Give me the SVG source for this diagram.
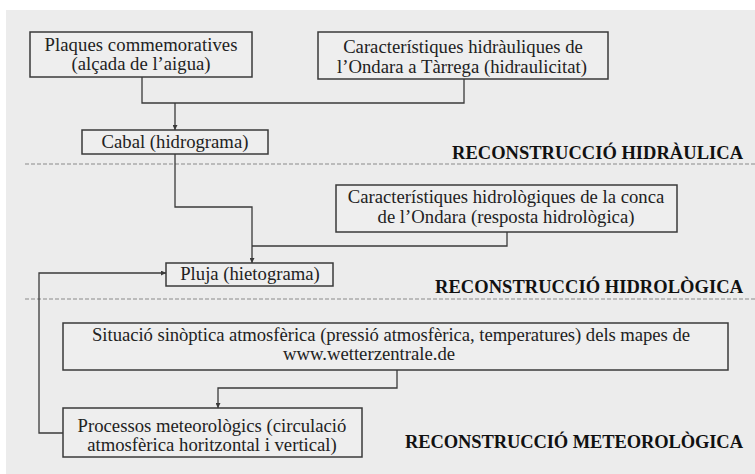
<svg xmlns="http://www.w3.org/2000/svg" width="755" height="474" viewBox="0 0 755 474">
<defs>
<style>
.box{fill:#eeeeee;stroke:#3a3a3a;stroke-width:1.5}
.t{font-family:"Liberation Serif","Times New Roman",serif;font-size:18.7px;fill:#222;text-anchor:middle}
.lab{font-family:"Liberation Serif","Times New Roman",serif;font-size:18.5px;font-weight:bold;fill:#111;text-anchor:end}
.c{fill:none;stroke:#3a3a3a;stroke-width:1.3}
.dash{stroke:#8a8a8a;stroke-width:1.2;stroke-dasharray:4 2}
</style>
<marker id="ah" viewBox="0 0 10 10" refX="10" refY="5" markerWidth="5" markerHeight="5" orient="auto" markerUnits="userSpaceOnUse">
<path d="M0,0 L10,5 L0,10 z" fill="#3a3a3a"/>
</marker>
</defs>
<rect x="0" y="0" width="755" height="474" fill="#ffffff"/>
<rect x="6" y="10" width="749" height="464" fill="#ececec"/>

<g id="separators">
<line class="dash" x1="25" y1="164" x2="755" y2="164"/>
<line class="dash" x1="25" y1="299" x2="755" y2="299"/>
</g>

<g id="connectors">
<polyline class="c" points="142,77 142,103 464,103 464,79"/>
<line class="c" x1="175" y1="103" x2="175" y2="130" marker-end="url(#ah)"/>
<polyline class="c" points="175,154 175,207 252,207 252,263" marker-end="url(#ah)"/>
<polyline class="c" points="507,232 507,246 252,246"/>
<polyline class="c" points="63,433 39,433 39,273 166,273" marker-end="url(#ah)"/>
<polyline class="c" points="397,370 397,388 218,388 218,408" marker-end="url(#ah)"/>
</g>

<g id="plaques">
<rect class="box" x="30" y="32" width="222" height="45"/>
<text class="t" x="141" y="51" textLength="193">Plaques commemoratives</text>
<text class="t" x="141" y="70">(alçada de l’aigua)</text>
</g>
<g id="hidrauliques">
<rect class="box" x="318" y="32" width="290" height="47"/>
<text class="t" x="463" y="53">Característiques hidràuliques de</text>
<text class="t" x="462" y="73" textLength="250">l’Ondara a Tàrrega (hidraulicitat)</text>
</g>
<g id="cabal">
<rect class="box" x="82" y="130" width="186" height="24"/>
<text class="t" x="175" y="148">Cabal (hidrograma)</text>
</g>
<g id="hidrologiques">
<rect class="box" x="336" y="185" width="341" height="47"/>
<text class="t" x="506" y="203">Característiques hidrològiques de la conca</text>
<text class="t" x="506" y="223">de l’Ondara (resposta hidrològica)</text>
</g>
<g id="pluja">
<rect class="box" x="166" y="263" width="167" height="23"/>
<text class="t" x="250" y="280">Pluja (hietograma)</text>
</g>
<g id="situacio">
<rect class="box" x="63" y="323" width="665" height="47"/>
<text class="t" x="391" y="341" textLength="598">Situació sinòptica atmosfèrica (pressió atmosfèrica, temperatures) dels mapes de</text>
<text class="t" x="283" y="360" style="text-anchor:start">www.wetterzentrale.de</text>
</g>
<g id="processos">
<rect class="box" x="63" y="408" width="299" height="49"/>
<text class="t" x="212" y="432">Processos meteorològics (circulació</text>
<text class="t" x="212" y="451">atmosfèrica horitzontal i vertical)</text>
</g>

<g id="labels">
<text class="lab" x="743" y="159" textLength="291">RECONSTRUCCIÓ HIDRÀULICA</text>
<text class="lab" x="743" y="293" textLength="308">RECONSTRUCCIÓ HIDROLÒGICA</text>
<text class="lab" x="743" y="448" textLength="338">RECONSTRUCCIÓ METEOROLÒGICA</text>
</g>
</svg>
